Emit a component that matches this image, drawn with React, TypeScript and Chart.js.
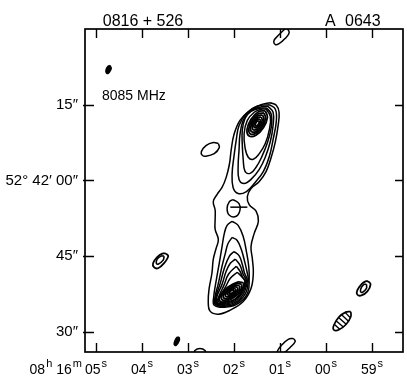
import React, { useEffect, useRef } from "react";
import { Chart, registerables } from "chart.js";

Chart.register(...registerables);

// ---- axes (RA seconds after 08h16m, Dec arcsec offset from 52°42'00") ----
const xTickValues = [5, 4, 3, 2, 1, 0, -1];
const xTickLabels = ["05", "04", "03", "02", "01", "00", "59"];
const xPrefix = [["08", "h"], ["16", "m"]];
const yTickValues = [15, 0, -15, -30];
const yTickLabels = ["15\u2033", "52\u00b0 42\u2032 00\u2033", "45\u2033", "30\u2033"];
const xRange = [-1.675, 5.24];
const yRange = [-34, 30];
const titleLeft = "0816 + 526";
const titleRightA = "A";
const titleRightB = "0643";
const freqLabel = "8085 MHz";

// ---- contours (x = RA s, y = Dec arcsec) ----
const outerContour = [[1.21,15.4],[1.08,14.9],[1.02,13.5],[1.04,10.9],[1.10,7.7],[1.19,4.6],[1.30,1.8],[1.45,-0.2],[1.63,-1.6],[1.71,-3.2],[1.67,-4.8],[1.52,-6.1],[1.47,-8.1],[1.56,-10.5],[1.63,-13.1],[1.60,-15.6],[1.58,-18.4],[1.63,-21.4],[1.80,-24.0],[2.08,-25.7],[2.34,-26.5],[2.52,-25.9],[2.56,-24.0],[2.54,-21.4],[2.48,-18.4],[2.45,-15.6],[2.39,-13.5],[2.34,-11.7],[2.41,-9.7],[2.41,-7.7],[2.41,-5.9],[2.45,-4.2],[2.37,-2.8],[2.26,-1.4],[2.17,0.6],[2.10,3.2],[2.06,6.1],[2.00,9.1],[1.87,11.9],[1.65,13.9],[1.41,15.0]];

const northContours = [
  [[1.23,15.0],[1.10,14.1],[1.08,11.7],[1.15,8.1],[1.23,4.8],[1.36,1.8],[1.54,-0.4],[1.73,-2.2],[1.91,-2.6],[2.02,-1.4],[2.04,1.4],[2.00,4.8],[1.95,8.1],[1.89,10.9],[1.73,13.3],[1.50,14.7]],
  [[1.26,14.7],[1.15,13.5],[1.15,10.9],[1.21,7.7],[1.32,4.6],[1.45,2.2],[1.63,0.2],[1.78,-0.6],[1.89,0.2],[1.91,2.8],[1.89,6.1],[1.87,9.1],[1.80,11.9],[1.65,13.7],[1.45,14.5]],
  [[1.28,14.3],[1.19,13.1],[1.19,10.5],[1.28,7.3],[1.39,4.8],[1.52,2.6],[1.65,1.4],[1.76,1.8],[1.80,4.2],[1.82,7.1],[1.82,9.9],[1.76,12.3],[1.63,13.7],[1.43,14.3]],
  [[1.30,14.1],[1.21,12.7],[1.23,10.1],[1.32,7.3],[1.45,5.3],[1.58,4.2],[1.69,4.6],[1.76,6.5],[1.78,9.3],[1.71,11.9],[1.56,13.5],[1.41,14.1]],
];

const northCore = [
  [[1.319,13.78],[1.273,12.49],[1.358,10.49],[1.523,8.96],[1.671,8.80],[1.717,10.09],[1.632,12.09],[1.467,13.62]],
  [[1.348,13.37],[1.314,12.31],[1.385,10.65],[1.521,9.37],[1.642,9.21],[1.677,10.27],[1.605,11.93],[1.469,13.21]],
  [[1.377,12.95],[1.350,12.10],[1.407,10.78],[1.516,9.75],[1.613,9.63],[1.640,10.48],[1.583,11.80],[1.474,12.83]],
  [[1.407,12.54],[1.386,11.90],[1.429,10.91],[1.511,10.14],[1.583,10.04],[1.604,10.68],[1.561,11.67],[1.479,12.44]],
  [[1.436,12.12],[1.422,11.70],[1.451,11.03],[1.506,10.52],[1.554,10.46],[1.568,10.88],[1.539,11.55],[1.485,12.06]],
  [[1.460,11.79],[1.452,11.54],[1.469,11.14],[1.502,10.83],[1.530,10.79],[1.538,11.04],[1.521,11.44],[1.488,11.75]],
];

const southContours = [
  [[2.04,-8.1],[1.91,-8.9],[1.80,-11.1],[1.73,-14.1],[1.68,-17.0],[1.67,-19.5],[1.70,-22.2],[1.88,-24.2],[2.16,-25.1],[2.43,-24.7],[2.44,-23.0],[2.39,-20.0],[2.32,-16.4],[2.26,-13.1],[2.21,-10.5],[2.15,-8.9]],
  [[2.04,-11.3],[1.93,-11.9],[1.84,-13.7],[1.76,-16.4],[1.71,-18.4],[1.69,-19.6],[1.73,-22.0],[1.90,-24.0],[2.16,-24.9],[2.41,-24.5],[2.41,-23.0],[2.34,-20.4],[2.26,-17.0],[2.19,-14.5],[2.13,-12.5]],
  [[2.00,-14.1],[1.89,-14.9],[1.82,-16.6],[1.77,-18.4],[1.71,-19.8],[1.76,-21.8],[1.91,-23.8],[2.16,-24.7],[2.39,-24.4],[2.39,-23.0],[2.30,-20.4],[2.21,-17.4],[2.10,-15.0]],
  [[1.97,-15.6],[1.87,-16.8],[1.80,-18.6],[1.73,-19.9],[1.78,-21.6],[1.93,-23.6],[2.16,-24.5],[2.37,-24.3],[2.37,-23.0],[2.26,-20.6],[2.17,-18.0],[2.08,-16.4]],
  [[1.95,-17.0],[1.87,-18.0],[1.81,-19.2],[1.75,-20.0],[1.80,-21.5],[1.94,-23.4],[2.16,-24.3],[2.36,-24.2],[2.33,-23.0],[2.22,-20.8],[2.12,-18.6]],
  [[1.93,-18.2],[1.83,-19.1],[1.76,-20.1],[1.82,-21.4],[1.95,-23.3],[2.16,-24.1],[2.34,-24.0],[2.30,-23.0],[2.19,-21.2],[2.08,-19.4]],
];

const southCore = [
  [[1.789,-20.30],[1.810,-21.49],[1.972,-23.03],[2.179,-24.01],[2.311,-23.86],[2.290,-22.67],[2.128,-21.13],[1.921,-20.15]],
  [[1.832,-20.60],[1.850,-21.59],[1.985,-22.87],[2.158,-23.69],[2.268,-23.57],[2.250,-22.57],[2.115,-21.29],[1.942,-20.47]],
  [[1.876,-20.89],[1.890,-21.69],[1.998,-22.71],[2.136,-23.37],[2.224,-23.27],[2.210,-22.47],[2.102,-21.45],[1.964,-20.79]],
  [[1.919,-21.19],[1.930,-21.79],[2.011,-22.56],[2.115,-23.05],[2.181,-22.97],[2.170,-22.37],[2.089,-21.60],[1.985,-21.11]],
  [[1.963,-21.49],[1.970,-21.88],[2.024,-22.40],[2.093,-22.72],[2.137,-22.67],[2.130,-22.28],[2.076,-21.76],[2.007,-21.44]],
  [[1.998,-21.72],[2.002,-21.96],[2.034,-22.27],[2.076,-22.47],[2.102,-22.44],[2.098,-22.20],[2.066,-21.89],[2.024,-21.69]],
];

const bridgeLoop = [[2.02,-3.8],[1.89,-4.6],[1.87,-5.9],[1.95,-7.1],[2.10,-6.9],[2.15,-5.5],[2.10,-4.2]];
const bridgeBar = [[2.08,-5.3],[1.71,-5.3]];

// isolated features
const blobNW = [[4.70,22.8],[4.67,22.2],[4.70,21.6],[4.74,21.2],[4.78,21.4],[4.78,22.0],[4.74,22.6]];
const loopTop = [[0.86,30.3],[0.80,29.3],[0.89,28.1],[1.02,27.1],[1.10,26.9],[1.13,27.7],[1.04,28.7],[0.93,29.7]];
const loopWest = [[2.34,7.3],[2.32,6.5],[2.43,5.3],[2.61,4.8],[2.69,5.0],[2.71,5.7],[2.61,6.9],[2.45,7.5]];
const ringSWOuter = [[3.48,-14.5],[3.43,-15.0],[3.52,-16.4],[3.65,-17.4],[3.74,-17.2],[3.76,-16.4],[3.67,-15.2],[3.56,-14.5]];
const ringSWInner = [[3.52,-15.0],[3.54,-15.8],[3.65,-16.6],[3.69,-16.4],[3.67,-15.6],[3.59,-15.0]];
const ringSEOuter = [[-0.92,-20.0],[-0.97,-20.6],[-0.90,-22.0],[-0.77,-22.8],[-0.68,-22.6],[-0.68,-21.8],[-0.77,-20.6],[-0.86,-20.0]];
const ringSEInner = [[-0.88,-20.6],[-0.88,-21.4],[-0.79,-22.2],[-0.75,-22.0],[-0.77,-21.2],[-0.83,-20.6]];
const blobS = [[3.19,-31.1],[3.19,-31.7],[3.26,-32.7],[3.30,-32.5],[3.28,-31.7],[3.24,-31.1]];
const archBottom = [[2.87,-34.5],[2.85,-33.7],[2.74,-33.3],[2.63,-33.7],[2.61,-34.5]];
const loopBottom = [[0.71,-31.3],[0.67,-31.9],[0.78,-33.1],[0.93,-34.3],[1.04,-34.7],[1.06,-33.9],[0.95,-32.5],[0.82,-31.5]];
const beamOutline = [[-0.54,-26.0],[-0.54,-27.0],[-0.44,-28.5],[-0.28,-29.6],[-0.17,-29.6],[-0.17,-28.7],[-0.28,-27.1],[-0.43,-26.1]];
const beamHatch = [
  [[-0.30,-29.5],[-0.18,-28.5]],
  [[-0.37,-29.0],[-0.22,-27.8]],
  [[-0.44,-28.5],[-0.28,-27.2]],
  [[-0.49,-27.9],[-0.34,-26.6]],
  [[-0.53,-27.2],[-0.41,-26.1]],
];

const FONT = '"Liberation Sans", "DejaVu Sans", sans-serif';

function mk(pts: number[][], closed: boolean, extra: any = {}) {
  const list = closed ? [...pts, pts[0]] : pts;
  return {
    data: list.map(([x, y]) => ({ x, y })),
    showLine: true,
    pointRadius: 0,
    borderColor: "#000",
    backgroundColor: "#000",
    borderWidth: 1.5,
    tension: 0.4,
    fill: false,
    ...extra,
  };
}

function drawParts(ctx: CanvasRenderingContext2D, parts: string[][], x: number, base: number, align: string) {
  const big = `14px ${FONT}`;
  const small = `11px ${FONT}`;
  const widths: number[][] = parts.map(([b, s]) => {
    ctx.font = big;
    const wb = ctx.measureText(b).width;
    ctx.font = small;
    const ws = s ? ctx.measureText(s).width : 0;
    return [wb, ws];
  });
  const gap = 4;
  let total = 0;
  widths.forEach(([wb, ws], i) => { total += wb + ws + 1 + (i < widths.length - 1 ? gap : 0); });
  let cx = align === "center" ? x - total / 2 : align === "right" ? x - total : x;
  ctx.textAlign = "left";
  ctx.textBaseline = "alphabetic";
  parts.forEach(([b, s], i) => {
    ctx.font = big;
    ctx.fillText(b, cx, base);
    cx += widths[i][0] + 1;
    if (s) {
      ctx.font = small;
      ctx.fillText(s, cx, base - 7);
      cx += widths[i][1];
    }
    cx += gap;
  });
  return total;
}

const decor = {
  id: "decor",
  afterDraw(chart: any) {
    const { ctx, chartArea } = chart;
    const { left, right, top, bottom } = chartArea;
    const xs = chart.scales.x;
    const ys = chart.scales.y;
    ctx.save();
    ctx.strokeStyle = "#000";
    ctx.fillStyle = "#000";
    ctx.lineWidth = 1.7;
    ctx.strokeRect(left, top, right - left, bottom - top);
    ctx.lineWidth = 1.4;
    ctx.beginPath();
    xTickValues.forEach((v) => {
      const px = Math.round(xs.getPixelForValue(v)) + 0.5;
      ctx.moveTo(px, top); ctx.lineTo(px, top + 9);
      ctx.moveTo(px, bottom); ctx.lineTo(px, bottom - 9);
    });
    yTickValues.forEach((v) => {
      const py = Math.round(ys.getPixelForValue(v)) + 0.5;
      ctx.moveTo(left - 2, py); ctx.lineTo(left + 9, py);
      ctx.moveTo(right, py); ctx.lineTo(right - 8, py);
    });
    ctx.stroke();

    // x tick labels with superscript units
    const base = bottom + 22;
    let w5 = 0;
    xTickValues.forEach((v, i) => {
      const px = xs.getPixelForValue(v);
      const w = drawParts(ctx, [[xTickLabels[i], "s"]], px, base, "center");
      if (i === 0) w5 = w;
    });
    drawParts(ctx, xPrefix, xs.getPixelForValue(xTickValues[0]) - w5 / 2 - 3, base, "right");

    // titles
    ctx.font = `16px ${FONT}`;
    ctx.textBaseline = "alphabetic";
    ctx.textAlign = "center";
    ctx.fillText(titleLeft, 143, top - 3);
    ctx.textAlign = "left";
    ctx.fillText(titleRightA, 325, top - 3);
    ctx.fillText(titleRightB, 345, top - 3);
    ctx.font = `14px ${FONT}`;
    ctx.fillText(freqLabel, left + 17, top + 71);
    ctx.restore();
  },
};

export default function App() {
  const ref = useRef<HTMLCanvasElement | null>(null);
  useEffect(() => {
    if (!ref.current) return;
    const datasets: any[] = [];
    datasets.push(mk(outerContour, true));
    northContours.forEach((c) => datasets.push(mk(c, true)));
    northCore.forEach((c) => datasets.push(mk(c, true, { borderWidth: 1.8 })));
    southContours.forEach((c) => datasets.push(mk(c, true)));
    southCore.forEach((c) => datasets.push(mk(c, true, { borderWidth: 1.8 })));
    datasets.push(mk(bridgeLoop, true));
    datasets.push(mk(bridgeBar, false, { tension: 0 }));
    datasets.push(mk(blobNW, true, { fill: "shape", borderWidth: 1.5 }));
    datasets.push(mk(loopTop, true));
    datasets.push(mk(loopWest, true));
    datasets.push(mk(ringSWOuter, true, { borderWidth: 1.8 }));
    datasets.push(mk(ringSWInner, true, { borderWidth: 1.6 }));
    datasets.push(mk(ringSEOuter, true, { borderWidth: 1.8 }));
    datasets.push(mk(ringSEInner, true, { borderWidth: 1.6 }));
    datasets.push(mk(blobS, true, { fill: "shape", borderWidth: 1.5 }));
    datasets.push(mk(archBottom, false));
    datasets.push(mk(loopBottom, true));
    datasets.push(mk(beamOutline, true, { borderWidth: 1.7 }));
    beamHatch.forEach((s) => datasets.push(mk(s, false, { tension: 0, borderWidth: 1.4 })));

    const chart = new Chart(ref.current, {
      type: "scatter",
      data: { datasets },
      options: {
        responsive: false,
        animation: false,
        events: [],
        layout: { padding: { top: 29, right: 4, left: 0, bottom: 0 } },
        plugins: { legend: { display: false }, tooltip: { enabled: false } },
        scales: {
          x: {
            type: "linear",
            reverse: true,
            min: xRange[0],
            max: xRange[1],
            grid: { display: false, drawTicks: false },
            border: { display: false },
            ticks: { display: false },
            afterFit: (s: any) => { s.height = 29; },
          },
          y: {
            type: "linear",
            min: yRange[0],
            max: yRange[1],
            grid: { display: false, drawTicks: false },
            border: { display: false },
            afterBuildTicks: (s: any) => { s.ticks = yTickValues.map((v) => ({ value: v })); },
            ticks: {
              color: "#000",
              padding: 7,
              font: { family: FONT, size: 15 },
              callback: (v: any) => yTickLabels[yTickValues.indexOf(Number(v))],
            },
            afterFit: (s: any) => { s.width = 85; },
          },
        },
      } as any,
      plugins: [decor],
    });
    return () => chart.destroy();
  }, []);
  return (
    <div style={{ position: "absolute", left: 0, top: 0, width: 407, height: 381, background: "#fff" }}>
      <canvas ref={ref} width={407} height={381} style={{ display: "block" }} />
    </div>
  );
}
